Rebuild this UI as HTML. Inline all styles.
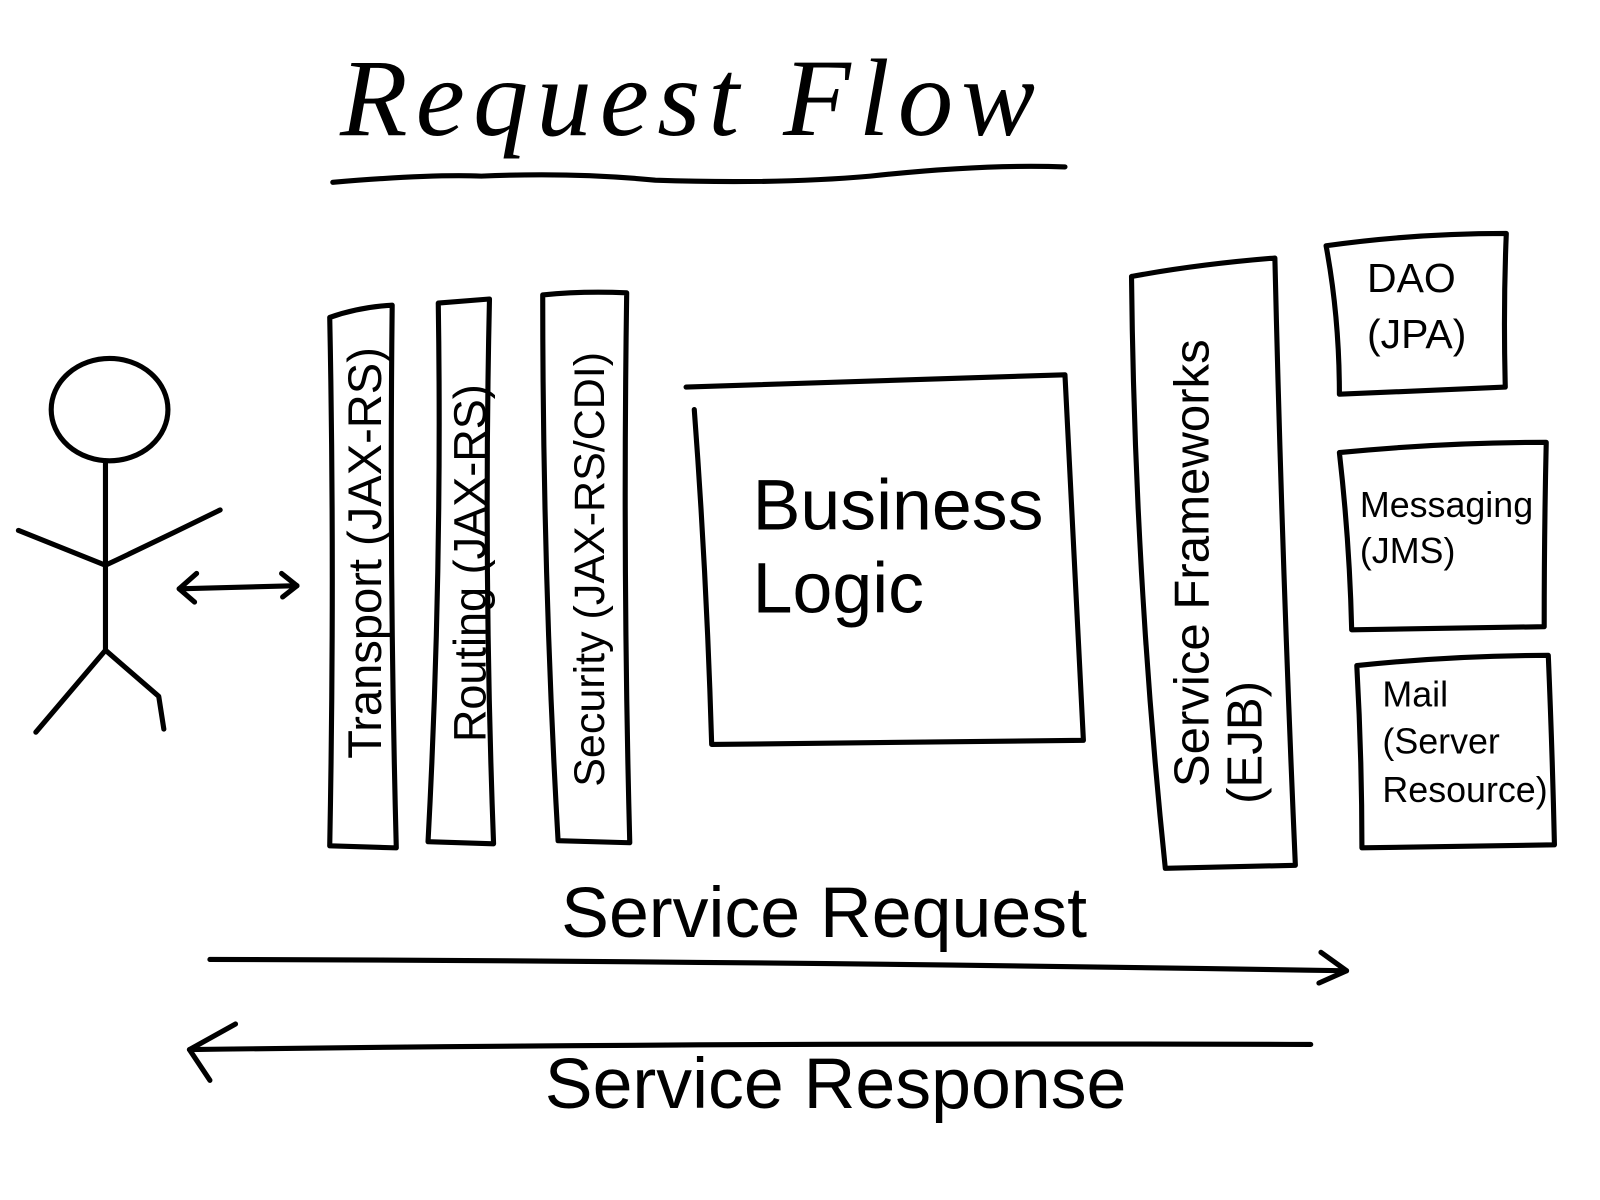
<!DOCTYPE html>
<html><head><meta charset="utf-8"><style>
html,body{margin:0;padding:0;background:#fff;}
svg{display:block;}
text{font-family:"Liberation Sans",sans-serif;fill:#000;}
</style></head><body>
<svg width="1600" height="1200" viewBox="0 0 1600 1200" xmlns="http://www.w3.org/2000/svg">
<g transform="scale(1.024)">
<g fill="none" stroke="#000" stroke-width="5" stroke-linejoin="round" stroke-linecap="round">
<path d="M325 178 Q420 170 470 172 Q560 168 640 176 Q760 180 850 172 Q960 160 1040 163"/>
<ellipse cx="107" cy="400" rx="57" ry="50"/>
<path d="M103 450 L103 635"/>
<path d="M18 518 Q60 535 103 552 Q160 525 215 498"/>
<path d="M103 635 L35 715"/>
<path d="M103 635 L155 680 L160 712"/>
<path d="M175 575 L290 572"/>
<path d="M192 560 L175 575 L190 588"/>
<path d="M275 560 L290 572 L276 583"/>
<path d="M322 310 Q350 300 383 298 Q380 560 387 828 L322 826 Q327 560 322 310"/>
<path d="M428 296 L478 292 Q472 560 482 824 L418 822 Q432 560 428 296"/>
<path d="M530 288 Q570 284 612 286 Q608 560 615 823 L545 821 Q530 560 530 288"/>
<path d="M670 378 Q850 372 1040 366 Q1050 550 1058 723 L695 727 Q690 560 678 400"/>
<path d="M1105 270 Q1170 258 1245 252 Q1252 550 1265 845 L1138 848 Q1108 560 1105 270"/>
<path d="M1295 240 Q1380 228 1471 228 Q1468 300 1470 378 L1308 385 Q1308 310 1295 240"/>
<path d="M1308 442 Q1410 432 1510 432 Q1508 520 1508 612 L1320 615 Q1318 530 1308 442"/>
<path d="M1325 650 Q1420 640 1512 640 Q1516 735 1518 825 L1330 828 Q1330 740 1325 650"/>
<path d="M205 937 Q700 938 1315 948"/>
<path d="M1290 930 L1315 948 L1288 960"/>
<path d="M185 1025 Q700 1018 1280 1020"/>
<path d="M230 1000 L185 1025 L205 1055"/>
</g>
<text x="332" y="132" font-style="italic" font-size="108" letter-spacing="8" style="font-family:'Liberation Serif',serif">Request  Flow</text>
<text transform="translate(372 540) rotate(-90)" text-anchor="middle" font-size="46">Transport (JAX-RS)</text>
<text transform="translate(474 550) rotate(-90)" text-anchor="middle" font-size="44">Routing (JAX-RS)</text>
<text transform="translate(590 556) rotate(-90)" text-anchor="middle" font-size="42">Security (JAX-RS/CDI)</text>
<text x="735" y="517" font-size="70">Business</text>
<text x="735" y="598" font-size="70">Logic</text>
<text transform="translate(1180 550) rotate(-90)" text-anchor="middle" font-size="48">Service Frameworks</text>
<text transform="translate(1232 725) rotate(-90)" text-anchor="middle" font-size="48">(EJB)</text>
<text x="1335" y="285" font-size="40">DAO</text>
<text x="1335" y="340" font-size="40">(JPA)</text>
<text x="1328" y="505" font-size="35">Messaging</text>
<text x="1328" y="550" font-size="35">(JMS)</text>
<text x="1350" y="690" font-size="35">Mail</text>
<text x="1350" y="736" font-size="35">(Server</text>
<text x="1350" y="783" font-size="35">Resource)</text>
<text x="548" y="915" font-size="70">Service Request</text>
<text x="532" y="1082" font-size="70">Service Response</text>
</g>
</svg>
</body></html>
